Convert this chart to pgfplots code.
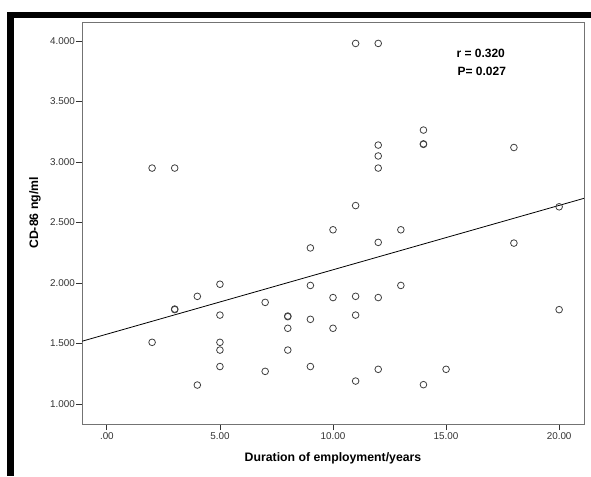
\documentclass[border=0pt]{standalone}
\usepackage{fontspec}
\setmainfont{Liberation Sans}
\usepackage{pgfplots}
\pgfplotsset{compat=1.18}
\begin{document}
\begin{tikzpicture}
\useasboundingbox (0pt,0pt) rectangle (443.25pt,357pt);
\fill[white] (0pt,0pt) rectangle (443.25pt,357pt);
% frame bars of the original figure
\fill[black] (5.25pt,343.5pt) rectangle (443.25pt,348pt);
\fill[black] (5.25pt,0pt) rectangle (10.5pt,348pt);
\begin{axis}[
  at={(61.5pt,39pt)}, anchor=south west,
  scale only axis, width=376.5pt, height=301.5pt,
  xmin=-1.1, xmax=21.1, ymin=0.835, ymax=4.157,
  axis line style={black!55, line width=0.75pt},
  xtick={0,5,10,15,20}, xticklabels={.00,5.00,10.00,15.00,20.00},
  ytick={1,1.5,2,2.5,3,3.5,4},
  yticklabels={1.000,1.500,2.000,2.500,3.000,3.500,4.000},
  tick align=outside, tick pos=left, major tick length=4.5pt,
  tick style={black!80, line width=0.6pt},
  ticklabel style={font=\fontsize{7.4}{8.5}\selectfont, text=black!80},
  yticklabel style={inner xsep=0.6pt},
  xticklabel style={inner ysep=1.5pt},
  xlabel={Duration of employment/years},
  ylabel={CD-86 ng/ml},
  label style={font=\fontsize{9.2}{11}\selectfont\bfseries},
  xlabel style={at={(axis description cs:0.5,-0.0846)}, anchor=center},
  ylabel style={at={(axis description cs:-0.0936,0.525)}, anchor=center},
]
\addplot[only marks, mark=o, mark size=2.5pt, mark options={draw=black!75, line width=0.6pt}] coordinates {
  (2,2.95)(3,2.95)
  (11,3.98)(12,3.98)
  (14,3.264)(14,3.146)(14,3.15)(12,3.14)(12,3.05)(12,2.95)(18,3.12)
  (11,2.64)(20,2.63)
  (10,2.44)(13,2.44)
  (12,2.336)(18,2.33)
  (9,2.29)
  (5,1.99)(9,1.98)(13,1.98)
  (4,1.89)(10,1.88)(11,1.89)(12,1.88)
  (7,1.84)
  (3,1.785)(3,1.78)(20,1.78)
  (5,1.735)(8,1.727)(8,1.722)(11,1.735)
  (9,1.70)
  (8,1.626)(10,1.626)
  (2,1.51)(5,1.51)
  (5,1.446)(8,1.446)
  (5,1.31)(9,1.31)(12,1.287)(15,1.287)
  (7,1.27)
  (11,1.19)(4,1.157)(14,1.16)
};
% fit line
\addplot[black, line width=0.6pt] coordinates {(-1.1,1.519)(21.1,2.700)};
\node[anchor=west, font=\fontsize{9}{11}\selectfont\bfseries, inner sep=0pt] at (axis cs:15.45,3.90) {r = 0.320};
\node[anchor=west, font=\fontsize{9}{11}\selectfont\bfseries, inner sep=0pt] at (axis cs:15.5,3.75) {P= 0.027};
\end{axis}
\end{tikzpicture}
\end{document}
